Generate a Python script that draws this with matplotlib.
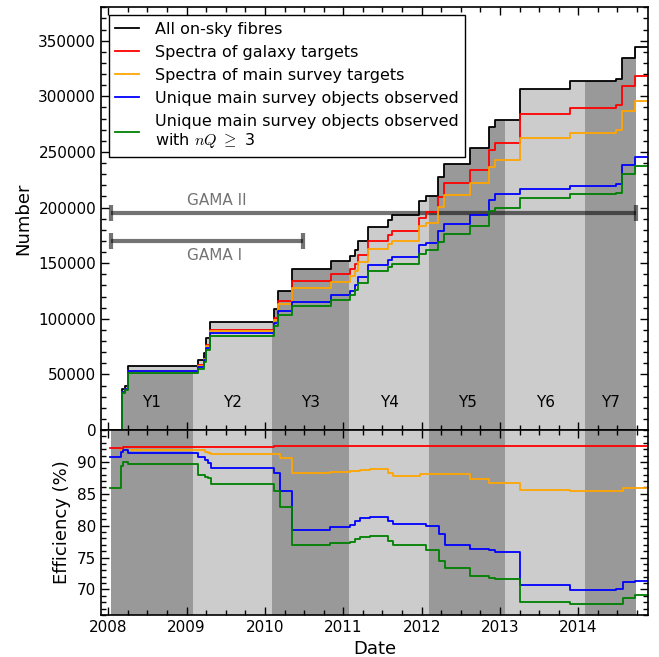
import numpy as np
import matplotlib
matplotlib.use('Agg')
import matplotlib.pyplot as plt
from matplotlib.ticker import MultipleLocator

plt.rcParams['mathtext.fontset'] = 'cm'

# cumulative counts (top panel), dates in decimal years
dates = [2008.02, 2008.17, 2008.213, 2008.256, 2009.149, 2009.222, 2009.248, 2009.30,
         2010.11, 2010.17, 2010.342, 2010.844, 2011.08, 2011.15, 2011.185, 2011.32,
         2011.576, 2011.627, 2011.96, 2012.06, 2012.215, 2012.29, 2012.62, 2012.866,
         2012.94, 2013.258, 2013.888, 2014.48, 2014.557, 2014.727, 2014.886]
all_fibres = [0, 37000, 40000, 57600, 62800, 69400, 82300, 97500,
              109200, 125300, 145100, 152000, 156200, 161600, 169500, 182500,
              189100, 193500, 206000, 210100, 227400, 239400, 253800, 272300,
              278900, 306700, 313300, 315700, 334200, 344100, 344100]
galaxy = [0, 34100, 36900, 53300, 58000, 64100, 76000, 90000,
          101000, 115900, 134300, 140300, 144500, 149500, 157000, 169500,
          175000, 178900, 191000, 196000, 209400, 222000, 234000, 251400,
          257900, 284000, 289400, 291800, 308800, 318100, 318100]
main_survey = [0, 34000, 36800, 53000, 57700, 63500, 75200, 88900,
               99300, 113500, 128000, 133500, 138000, 143000, 151000, 162500,
               167000, 169700, 183000, 186000, 200500, 211600, 222000, 236400,
               242400, 262700, 266900, 269300, 286600, 295600, 295600]
unique = [0, 33800, 36600, 52600, 57000, 62700, 74000, 86800,
          96400, 107000, 115100, 121200, 125000, 130600, 137300, 148700,
          152800, 155200, 166000, 168500, 178900, 184900, 193000, 206500,
          212500, 216800, 219000, 220800, 237900, 245300, 245300]
unique_nq3 = [0, 33100, 35800, 51600, 55200, 60900, 71900, 84300,
              93300, 103800, 111700, 116900, 121100, 125900, 132000, 142700,
              146900, 148900, 158000, 162200, 169000, 176000, 183500, 197000,
              200000, 208900, 212500, 213500, 229800, 237300, 237300]

# efficiencies (bottom panel)
eff_dates = [2008.022, 2008.158, 2008.19, 2008.256, 2009.149, 2009.235, 2009.277, 2009.308,
             2010.116, 2010.193, 2010.342, 2010.83, 2011.086, 2011.15, 2011.214, 2011.342,
             2011.576, 2011.64, 2011.98, 2012.057, 2012.227, 2012.3, 2012.62, 2012.862,
             2012.939, 2013.25, 2013.89, 2014.48, 2014.57, 2014.727, 2014.886]
eff_galaxy = [92.25, 91.9, 92.3, 92.3, 92.4, 92.4, 92.4, 92.4,
              92.5, 92.5, 92.5, 92.55, 92.55, 92.55, 92.55, 92.55,
              92.55, 92.55, 92.55, 92.55, 92.55, 92.55, 92.55, 92.55,
              92.55, 92.55, 92.55, 92.55, 92.55, 92.55, 92.55]
eff_main = [np.nan, 91.87, 91.87, 91.87, 91.87, 91.6, 91.4, 91.24,
            91.24, 90.56, 88.21, 88.4, 88.5, 88.6, 88.8, 88.92,
            88.26, 87.79, 88.1, 88.1, 88.05, 88.05, 87.27, 86.7,
            86.62, 85.6, 85.44, 85.5, 85.91, 85.91, 85.91]
eff_unique = [90.82, 91.6, 91.86, 91.34, 90.82, 90.3, 89.9, 89.0,
              88.31, 85.44, 79.33, 79.85, 80.1, 80.79, 81.2, 81.41,
              80.79, 80.22, 80.22, 79.95, 78.7, 76.97, 76.4, 76.2,
              75.93, 70.71, 69.92, 70.0, 71.23, 71.3, 71.3]
eff_nq3 = [85.91, 89.4, 89.95, 89.7, 87.95, 87.69, 87.4, 86.49,
           85.44, 82.88, 76.97, 77.24, 77.5, 77.9, 78.2, 78.39,
           77.67, 76.97, 76.97, 76.19, 74.51, 73.32, 72.16, 71.8,
           71.6, 68.09, 67.73, 67.8, 68.72, 69.09, 69.09]

year_edges = [2008.03, 2009.08, 2010.09, 2011.07, 2012.10, 2013.07, 2014.09, 2014.73]
year_labels = ['Y1', 'Y2', 'Y3', 'Y4', 'Y5', 'Y6', 'Y7']
gama1 = [2008.03, 2010.49]
gama2 = [2008.03, 2014.74]

labels = ['All on-sky fibres', 'Spectra of galaxy targets', 'Spectra of main survey targets',
          'Unique main survey objects observed',
          'Unique main survey objects observed\nwith $nQ\\ \\geq$ 3']
colors = ['k', 'r', '#ffa500', 'b', 'g']

dark = '#999999'
light = '#cccccc'
ytop = 380000

fig = plt.figure(figsize=(6.59, 6.57), dpi=100)
ax1 = fig.add_axes([0.1533, 0.3455, 0.8296, 0.6434])
ax2 = fig.add_axes([0.1533, 0.0639, 0.8296, 0.2816], sharex=ax1)

for i in range(len(year_labels)):
    c = dark if i % 2 == 0 else light
    ax1.axvspan(year_edges[i], year_edges[i+1], color=c, lw=0, zorder=0)
    ax2.axvspan(year_edges[i], year_edges[i+1], color=c, lw=0, zorder=0)
    ax1.text((year_edges[i] + year_edges[i+1]) / 2, 25000, year_labels[i],
             ha='center', va='center', fontsize=11, zorder=5)

d = np.array(dates)
# white above the total curve, light strip in Y1 above the nQ>=3 curve
ax1.fill_between(d, all_fibres, ytop, step='post', color='white', lw=0, zorder=1)
ax1.fill_between(d[:8], unique_nq3[:8], all_fibres[:8], step='post', color=light, lw=0, zorder=1)

series = [all_fibres, galaxy, main_survey, unique, unique_nq3]
for s, lab, c in zip(series, labels, colors):
    ax1.plot(dates, s, drawstyle='steps-post', color=c, lw=1.3, label=lab, zorder=3)

effs = [eff_galaxy, eff_main, eff_unique, eff_nq3]
for s, c in zip(effs, colors[1:]):
    ax2.plot(eff_dates, s, drawstyle='steps-post', color=c, lw=1.3, zorder=3)

for rng, y, name, ty, va in [(gama2, 195000, 'GAMA II', 200000, 'bottom'),
                             (gama1, 170000, 'GAMA I', 164000, 'top')]:
    ax1.errorbar([(rng[0] + rng[1]) / 2], [y], xerr=[(rng[1] - rng[0]) / 2], fmt='none',
                 ecolor='k', alpha=0.55, elinewidth=3, capsize=6, capthick=3, zorder=2.5)
    ax1.text(2009.0, ty, name, ha='left', va=va, color='k', alpha=0.55, fontsize=11, zorder=5)

leg = ax1.legend(loc='upper left', fontsize=11.5, fancybox=False, edgecolor='k',
                 framealpha=1, borderaxespad=0.5, handlelength=1.5, handletextpad=1.0,
                 labelspacing=0.5)
leg.get_frame().set_linewidth(1.0)
leg.set_zorder(6)

ax1.set_xlim(2007.907, 2014.886)
ax1.set_ylim(0, ytop)
ax2.set_ylim(66, 95)

ax1.yaxis.set_major_locator(MultipleLocator(50000))
ax1.yaxis.set_minor_locator(MultipleLocator(10000))
ax2.set_yticks([70, 75, 80, 85, 90])
ax2.yaxis.set_minor_locator(MultipleLocator(1))
ax2.set_xticks(range(2008, 2015))
ax2.set_xticklabels([str(y) for y in range(2008, 2015)])
ax2.xaxis.set_minor_locator(MultipleLocator(0.25))
plt.setp(ax1.get_xticklabels(), visible=False)

for ax in [ax1, ax2]:
    ax.tick_params(which='both', direction='in', top=True, right=True, labelsize=11, width=1)
    ax.tick_params(which='major', length=6)
    ax.tick_params(which='minor', length=3.5)
    for sp in ax.spines.values():
        sp.set_linewidth(1.2)
        sp.set_zorder(7)

ax1.set_ylabel('Number', fontsize=13)
ax2.set_ylabel('Efficiency (%)', fontsize=13)
ax2.set_xlabel('Date', fontsize=13)

fig.savefig('out.png', dpi=100)
